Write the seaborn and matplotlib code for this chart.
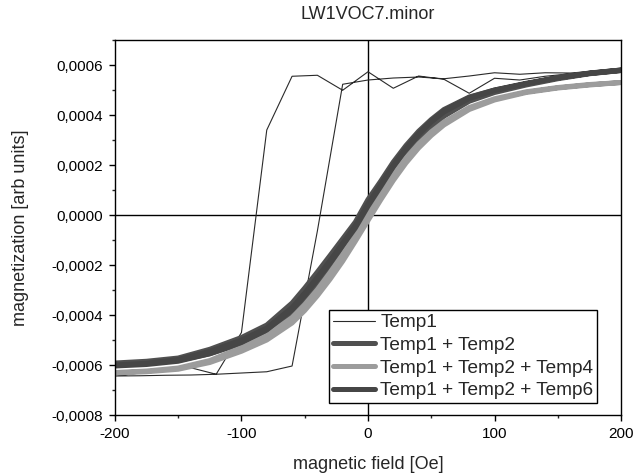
import numpy as np
import pandas as pd
import matplotlib
matplotlib.use("Agg")
import matplotlib.pyplot as plt
import matplotlib.ticker as mticker
import seaborn as sns

# ---------------- data ----------------
title = "LW1VOC7.minor"
series_names = ["Temp1", "Temp1 + Temp2", "Temp1 + Temp2 + Temp4", "Temp1 + Temp2 + Temp6"]

# Temp1: sparse loop (20 Oe steps)
t1_field_down = [200, 180, 160, 140, 120, 100, 80, 60, 40, 20, 0, -20, -40, -60, -80, -100, -120, -140, -160, -180, -200]
t1_mag_down = [0.000576, 0.000572, 0.000565, 0.000555, 0.000540, 0.000547, 0.000487, 0.000543, 0.000556, 0.000507,
               0.000573, 0.000499, 0.000559, 0.000555, 0.000340, -0.000470, -0.000637, -0.000611, -0.000622,
               -0.000632, -0.000644]
t1_field_up = [-200, -180, -160, -140, -120, -100, -80, -60, -40, -20, 0, 20, 40, 60, 80, 100, 120, 140, 160, 180, 200]
t1_mag_up = [-0.000644, -0.000643, -0.000641, -0.000640, -0.000637, -0.000632, -0.000627, -0.000604, -0.000064,
             0.000523, 0.000540, 0.000548, 0.000552, 0.000545, 0.000556, 0.000569, 0.000563, 0.000569, 0.000568,
             0.000576, 0.000576]

# dense curves, sampled on a common field grid (ascending order)
grid = [-200, -175, -150, -125, -100, -80, -60, -50, -40, -30, -20, -10, 0, 10, 20, 30, 40, 50, 60, 80, 100, 125, 150, 175, 200]

t12_down = [-0.000592, -0.000585, -0.000572, -0.000537, -0.000490, -0.000440, -0.000352, -0.000292, -0.000228,
            -0.000162, -0.000095, -0.000028, 0.000062, 0.000135, 0.000212, 0.000278, 0.000335, 0.000382, 0.000422,
            0.000472, 0.000500, 0.000525, 0.000548, 0.000566, 0.000578]
t12_up = [-0.000598, -0.000592, -0.000582, -0.000555, -0.000515, -0.000470, -0.000395, -0.000343, -0.000282,
          -0.000215, -0.000148, -0.000078, 0.000005, 0.000085, 0.000165, 0.000235, 0.000298, 0.000350, 0.000395,
          0.000455, 0.000490, 0.000520, 0.000545, 0.000565, 0.000578]

t124_down = [-0.000630, -0.000624, -0.000612, -0.000582, -0.000530, -0.000482, -0.000410, -0.000358, -0.000298,
             -0.000230, -0.000158, -0.000080, 0.000005, 0.000085, 0.000160, 0.000228, 0.000285, 0.000333, 0.000372,
             0.000430, 0.000465, 0.000493, 0.000510, 0.000522, 0.000530]
t124_up = [-0.000632, -0.000627, -0.000617, -0.000590, -0.000545, -0.000500, -0.000432, -0.000382, -0.000323,
           -0.000257, -0.000185, -0.000105, -0.000022, 0.000060, 0.000138, 0.000208, 0.000268, 0.000318, 0.000360,
           0.000422, 0.000460, 0.000490, 0.000508, 0.000520, 0.000530]

t126_down = [-0.000600, -0.000593, -0.000578, -0.000545, -0.000500, -0.000452, -0.000370, -0.000312, -0.000248,
             -0.000182, -0.000112, -0.000042, 0.000045, 0.000122, 0.000200, 0.000268, 0.000326, 0.000376, 0.000418,
             0.000470, 0.000500, 0.000527, 0.000550, 0.000568, 0.000580]
t126_up = [-0.000604, -0.000598, -0.000585, -0.000555, -0.000510, -0.000460, -0.000379, -0.000322, -0.000258,
           -0.000192, -0.000122, -0.000052, 0.000035, 0.000113, 0.000193, 0.000262, 0.000321, 0.000372, 0.000412,
           0.000466, 0.000498, 0.000525, 0.000549, 0.000567, 0.000580]

x_ticks = [-200, -100, 0, 100, 200]
y_ticks = [-0.0008, -0.0006, -0.0004, -0.0002, 0.0, 0.0002, 0.0004, 0.0006]


def loop_frame(f_down, m_down, f_up, m_up):
    return pd.DataFrame({
        "field": list(f_down) + list(f_up),
        "mag": list(m_down) + list(m_up),
    })


frames = [
    loop_frame(t1_field_down, t1_mag_down, t1_field_up, t1_mag_up),
    loop_frame(grid[::-1], t12_down[::-1], grid, t12_up),
    loop_frame(grid[::-1], t124_down[::-1], grid, t124_up),
    loop_frame(grid[::-1], t126_down[::-1], grid, t126_up),
]
colors = ["#2a2a2a", "#505050", "#9c9c9c", "#464646"]
widths = [0.8, 3.6, 3.6, 3.6]

# ---------------- figure ----------------
sns.set_style("ticks")
plt.rcParams["font.family"] = ["Liberation Sans", "DejaVu Sans"]

fig = plt.figure(figsize=(6.35, 4.73), dpi=100)
ax = fig.add_axes([0.181, 0.1226, 0.797, 0.7928])

for df, name, c, lw in zip(frames, series_names, colors, widths):
    sns.lineplot(data=df, x="field", y="mag", sort=False, estimator=None, color=c,
                 linewidth=lw, ax=ax, label=name, legend=False)

ax.axhline(0, color="black", lw=1.0, zorder=1)
ax.axvline(0, color="black", lw=1.0, zorder=1)

ax.set_xlim(-200, 200)
ax.set_ylim(-0.0008, 0.0007)
ax.set_xticks(x_ticks)
ax.set_yticks(y_ticks)
ax.xaxis.set_minor_locator(mticker.MultipleLocator(50))
ax.yaxis.set_minor_locator(mticker.MultipleLocator(0.0001))
ax.xaxis.set_major_formatter(mticker.FuncFormatter(lambda v, p: f"{v:.0f}".replace("\u2212", "-")))
ax.yaxis.set_major_formatter(mticker.FuncFormatter(lambda v, p: f"{v:.4f}".replace(".", ",").replace("-0,0000", "0,0000")))
ax.tick_params(which="major", direction="out", length=4.5, width=1, labelsize=11, colors="black", pad=4)
ax.tick_params(which="minor", direction="out", length=2.5, width=1)

for s in ax.spines.values():
    s.set_color("black")
    s.set_linewidth(1.0)

ax.set_xlabel("magnetic field [Oe]", fontsize=13, labelpad=11)
ax.set_ylabel("magnetization [arb units]", fontsize=13, labelpad=16)
ax.set_title(title, fontsize=13, pad=15)

handles, labels = ax.get_legend_handles_labels()
leg = ax.legend(handles, labels, loc="lower right", bbox_to_anchor=(0.953, 0.032), fontsize=13.7,
                frameon=True, fancybox=False, edgecolor="black", framealpha=1, labelspacing=0.28,
                handlelength=2.2, handletextpad=0.3, borderpad=0.2, borderaxespad=0)
leg.get_frame().set_linewidth(1.0)

fig.savefig("out.png", dpi=100)
